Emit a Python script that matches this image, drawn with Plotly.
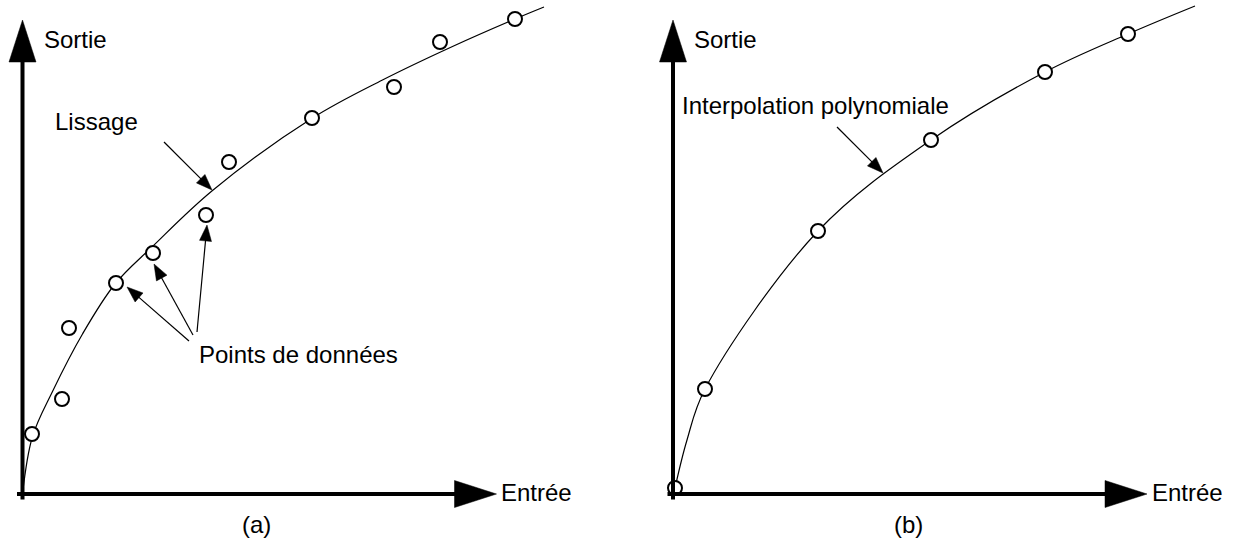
import numpy as np
import plotly.graph_objects as go

# ---- Panel (a): noisy measurements and the smoothing curve ----
a_in = [0.19, 0.79, 0.93, 1.87, 2.61, 3.67, 4.13, 5.79, 7.43, 8.35, 9.85]
a_out = [1.20, 1.90, 3.32, 4.22, 4.82, 5.58, 6.64, 7.52, 8.14, 9.04, 9.50]
a_fit_in = [0.0, 0.2, 0.6, 1.2, 1.85, 2.6, 3.8, 5.8, 7.2, 8.6, 9.85, 10.43]
a_fit_out = [0.0, 1.15, 2.05, 3.2, 4.2, 4.95, 6.07, 7.52, 8.28, 8.95, 9.5, 9.74]

# ---- Panel (b): exact points and the interpolating polynomial ----
b_in = [0.04, 0.64, 2.90, 5.16, 7.44, 9.10]
b_out = [0.12, 2.10, 5.26, 7.08, 8.44, 9.20]
b_fit_in = [0.04, 0.28, 0.64, 2.90, 5.16, 7.44, 9.10, 10.44]
b_fit_out = [0.12, 1.08, 2.10, 5.26, 7.08, 8.44, 9.20, 9.76]

AXIS_LEN = 9.48
FONT = dict(family="Liberation Sans, Arial, sans-serif", size=24, color="black")

fig = go.Figure()

def add_panel(xr, yr, pts_x, pts_y, fit_x, fit_y):
    fig.add_trace(go.Scatter(x=fit_x, y=fit_y, mode="lines",
                             line=dict(color="black", width=1.2, shape="spline", smoothing=1.0),
                             xaxis=xr, yaxis=yr, hoverinfo="skip", showlegend=False))
    fig.add_trace(go.Scatter(x=pts_x, y=pts_y, mode="markers",
                             marker=dict(symbol="circle", size=14, color="white",
                                         line=dict(color="black", width=2)),
                             xaxis=xr, yaxis=yr, showlegend=False))

add_panel("x", "y", a_in, a_out, a_fit_in, a_fit_out)
add_panel("x2", "y2", b_in, b_out, b_fit_in, b_fit_out)

shapes = []

def head_path(tip, tail, length, half):
    tip = np.array(tip, float)
    tail = np.array(tail, float)
    d = tip - tail
    d /= np.hypot(*d)
    n = np.array([-d[1], d[0]])
    base = tip - d * length
    p1 = base + n * half
    p2 = base - n * half
    return f"M{tip[0]},{tip[1]} L{p1[0]},{p1[1]} L{p2[0]},{p2[1]} Z"

def arrow(xr, yr, tail, tip, width, length, half):
    d = np.array(tip, float) - np.array(tail, float)
    d /= np.hypot(*d)
    end = np.array(tip, float) - d * length * 0.8
    shapes.append(dict(type="line", xref=xr, yref=yr, x0=tail[0], y0=tail[1],
                       x1=end[0], y1=end[1], line=dict(color="black", width=width)))
    shapes.append(dict(type="path", xref=xr, yref=yr, path=head_path(tip, tail, length, half),
                       fillcolor="black", line=dict(color="black", width=0.5)))

for xr, yr in (("x", "y"), ("x2", "y2")):
    arrow(xr, yr, (-0.11, 0), (AXIS_LEN, 0), 4, 0.84, 0.27)
    arrow(xr, yr, (0, -0.11), (0, AXIS_LEN), 4, 0.84, 0.27)

# Leader arrows pointing at the curves and the data points
arrow("x", "y", (2.83, 7.04), (3.79, 6.08), 1.2, 0.32, 0.12)
arrow("x", "y", (3.33, 3.06), (2.09, 4.14), 1.2, 0.32, 0.12)
arrow("x", "y", (3.41, 3.18), (2.63, 4.60), 1.2, 0.32, 0.12)
arrow("x", "y", (3.49, 3.24), (3.69, 5.38), 1.2, 0.32, 0.12)
arrow("x2", "y2", (3.28, 7.34), (4.20, 6.42), 1.2, 0.32, 0.12)

annotations = []

def label(xr, yr, x, y, text, xanchor="left"):
    annotations.append(dict(xref=xr, yref=yr, x=x, y=y, text=text, showarrow=False,
                            xanchor=xanchor, yanchor="middle", font=FONT))

for xr, yr in (("x", "y"), ("x2", "y2")):
    label(xr, yr, 0.38, 9.10, "Sortie")
    label(xr, yr, 9.53, 0.04, "Entrée")
label("x", "y", 0.61, 7.46, "Lissage")
label("x", "y", 3.49, 2.80, "Points de données")
label("x2", "y2", 0.14, 7.78, "Interpolation polynomiale")
label("x", "y", 4.67, -0.60, "(a)", "center")
label("x2", "y2", 4.70, -0.60, "(b)", "center")

hidden = dict(visible=False, showgrid=False, zeroline=False)
fig.update_layout(
    width=1233, height=554,
    margin=dict(l=0, r=0, t=0, b=0),
    paper_bgcolor="white", plot_bgcolor="white",
    xaxis=dict(domain=[0, 0.5], range=[-0.45, 11.88], **hidden),
    yaxis=dict(domain=[0, 1], range=[-1.2, 9.88], anchor="x", **hidden),
    xaxis2=dict(domain=[0.5, 1], range=[-1.13, 11.20], **hidden),
    yaxis2=dict(domain=[0, 1], range=[-1.2, 9.88], anchor="x2", **hidden),
    shapes=shapes, annotations=annotations,
)

fig.write_html("out.html")
